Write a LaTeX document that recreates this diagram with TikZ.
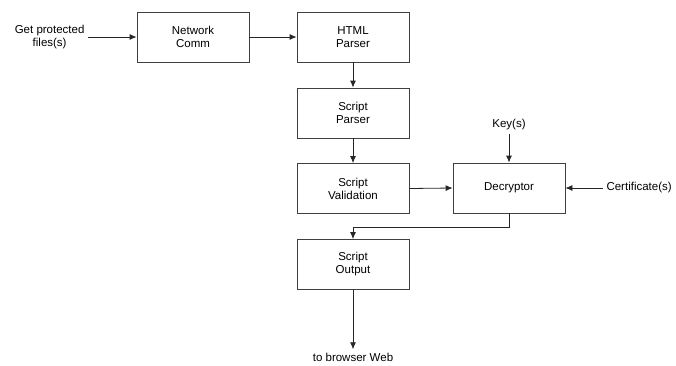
\documentclass[tikz,border=0pt]{standalone}
\usepackage{fontspec}
\setmainfont{Liberation Sans}
\usetikzlibrary{arrows.meta}

\tikzset{
    block/.style={draw=black!75, line width=0.8pt, minimum width=112pt, minimum height=50pt, align=center},
    label/.style={align=center},
    conn/.style={draw=black!85, line width=0.8pt, -{Latex[length=7pt,width=6pt]}}
}

\begin{document}
\begin{tikzpicture}[x=1pt, y=-1pt, font=\fontsize{11.5}{13}\selectfont]
    \useasboundingbox (0,0) rectangle (676,365);

    % Main chain of blocks
    \node[block] (net)  at (193, 37)    {Network\\Comm};
    \node[block] (html) at (353, 37)    {HTML\\Parser};
    \node[block] (spar) at (353, 113)   {Script\\Parser};
    \node[block] (sval) at (353, 188.5) {Script\\Validation};
    \node[block] (dec)  at (509, 188)   {Decryptor};
    \node[block] (sout) at (353, 264.5) {Script\\Output};

    % Inputs and output
    \node[label, anchor=east] (get)  at (88, 37)  {Get protected\\files(s)};
    \node[label] (key)  at (509, 125) {Key(s)};
    \node[label, anchor=west] (cert) at (603, 188) {Certificate(s)};
    \node[label] (web)  at (353, 357) {to browser Web};

    % Connectors
    \draw[conn] (get.east) -- (net.west);
    \draw[conn] (net.east) -- (html.west);
    \draw[conn] (html.south) -- (spar.north);
    \draw[conn] (spar.south) -- (sval.north);
    \draw[conn] (sval.east) -- (dec.west);
    \draw[conn] (key.south) -- (dec.north);
    \draw[conn] (cert.west) -- (dec.east);
    \draw[conn] (dec.south) -- ++(0,14) -| (sout.north);
    \draw[conn] (sout.south) -- (web.north);
\end{tikzpicture}
\end{document}
